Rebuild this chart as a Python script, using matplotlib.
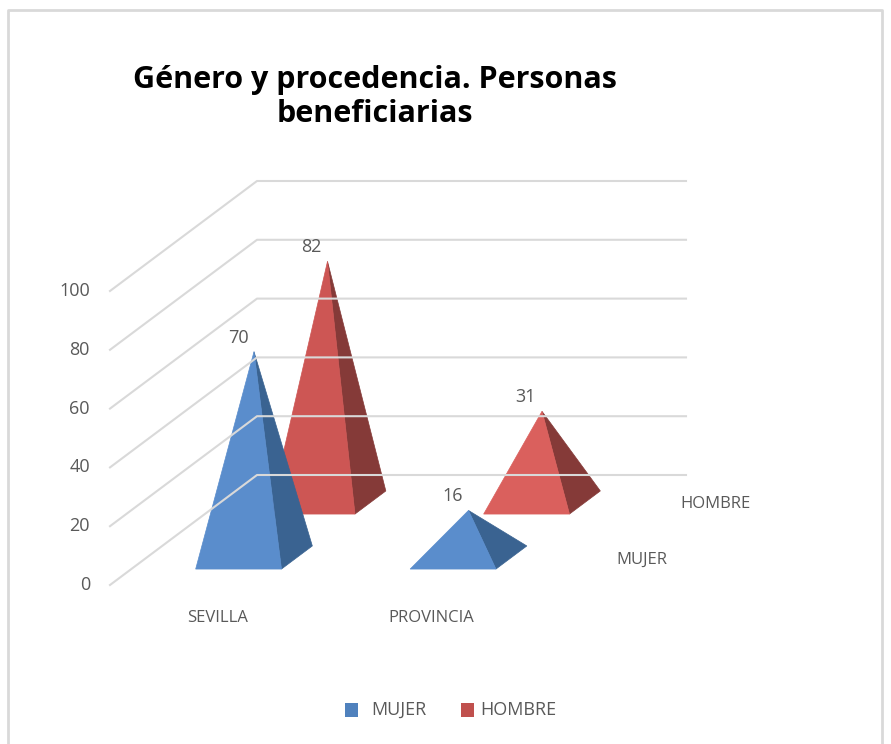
import matplotlib
matplotlib.use('Agg')
import matplotlib.pyplot as plt
from matplotlib.patches import Polygon, Rectangle

plt.rcParams['font.family'] = ['Open Sans', 'DejaVu Sans']

categorias = ['SEVILLA', 'PROVINCIA']
series = ['MUJER', 'HOMBRE']
mujer = [70, 16]
hombre = [82, 31]
ticks = [0, 20, 40, 60, 80, 100]
titulo = 'Género y procedencia. Personas\nbeneficiarias'

gris = '#595959'
linea = '#d9d9d9'


# proyeccion oblicua: cat 0..2, prof 0..2, valor 0..100 -> pixel
def proy(cat, prof, valor):
    x = 110 + 214.5 * cat + 73.5 * prof
    y = 585 - 55 * prof - 2.94 * valor
    return x, y


def piramide(ax, cat, prof, valor, c_frente, c_lado):
    m = 0.2
    d = 0.21
    cx = cat + 0.5 + 0.0
    cp = prof + 0.5
    fi = proy(cx - m, cp - d, 0)
    fd = proy(cx + m, cp - d, 0)
    td = proy(cx + m, cp + d, 0)
    top = proy(cx, cp, valor)
    ax.add_patch(Polygon([fd, td, top], closed=True, fc=c_lado, ec=c_lado, lw=0.5))
    ax.add_patch(Polygon([fi, fd, top], closed=True, fc=c_frente, ec=c_frente, lw=0.5))
    ax.text(top[0] - 16 if valor > 60 else top[0] - 16 if valor < 20 else top[0] - 16, top[1] - 5,
            str(valor), color=gris, fontsize=13, ha='center', va='bottom')


fig = plt.figure(figsize=(8.91, 7.44), dpi=100)
ax = fig.add_axes([0, 0, 1, 1])
ax.set_xlim(0, 891)
ax.set_ylim(744, 0)
ax.axis('off')

# marco
ax.plot([7.5, 7.5, 881.5, 881.5], [744, 9.5, 9.5, 744], color='#d9d9d9', lw=2)

# rejilla
for t in ticks:
    a = proy(0, 0, t)
    b = proy(0, 2, t)
    c = proy(2, 2, t)
    ax.plot([a[0], b[0], c[0]], [a[1], b[1], c[1]], color=linea, lw=1.5)
    ax.text(a[0] - 20, a[1], str(t), color=gris, fontsize=13, ha='right', va='center')

for i, cat in enumerate(categorias):
    x, y = proy(i + 0.5, 0, 0)
    ax.text(x + [0, 0][i] - 0, y + 33, cat, color=gris, fontsize=12, ha='center', va='center')

for j, s in enumerate(series):
    x, y = proy(2, j + 0.5, 0)
    ax.text(x + 66 - j * 0, y + 2 - 0, s, color=gris, fontsize=12, ha='center', va='center')

colores_m = ['#5a8dcc', '#5a8dcc']
colores_h = ['#cd5654', '#da605d']
for i in range(len(categorias)):
    piramide(ax, i, 1, hombre[i], colores_h[i], '#853a38')
for i in range(len(categorias)):
    piramide(ax, i, 0, mujer[i], colores_m[i], '#3a6391')

# leyenda
ax.add_patch(Rectangle((345, 703), 13, 14, fc='#4f81bd', ec='none'))
ax.text(371, 710, 'MUJER', color=gris, fontsize=13, va='center')
ax.add_patch(Rectangle((461, 703), 13, 14, fc='#c0504d', ec='none'))
ax.text(480, 710, 'HOMBRE', color=gris, fontsize=13, va='center')

ax.text(375, 97, titulo, color='black', fontsize=22, fontweight='bold', ha='center', va='center',
        linespacing=1.15)

fig.savefig('out.png', dpi=100)
